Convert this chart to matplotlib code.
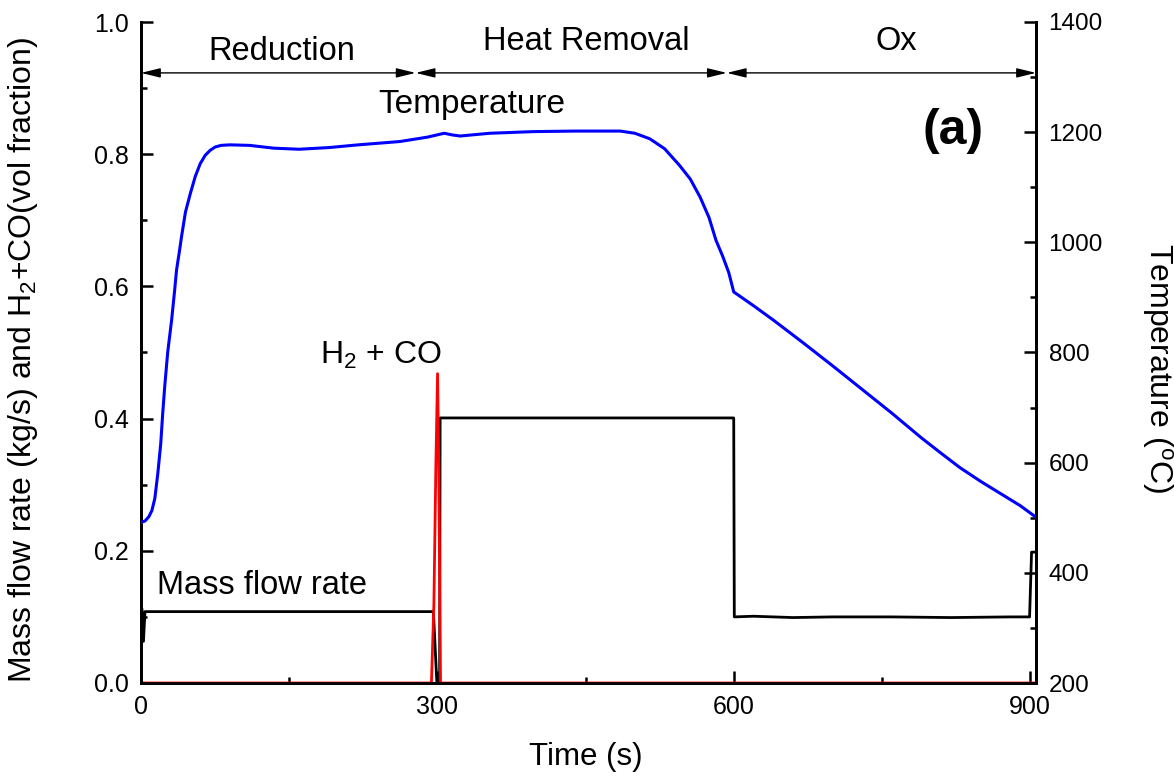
import matplotlib
matplotlib.use("Agg")
import matplotlib.pyplot as plt
from matplotlib.ticker import MultipleLocator

plt.rcParams['font.family'] = ['Liberation Sans', 'DejaVu Sans']
plt.rcParams['mathtext.fontset'] = 'custom'
plt.rcParams['mathtext.rm'] = 'Liberation Sans'
plt.rcParams['mathtext.it'] = 'Liberation Sans:italic'
plt.rcParams['mathtext.bf'] = 'Liberation Sans:bold'

# ---- data ----
temp_time = [0, 4, 8, 11, 14, 17, 20, 22, 24, 27, 31, 34, 36, 39, 41, 45, 50, 55, 60, 65, 70, 75, 81, 90,
             110, 134, 160, 190, 220, 262, 290, 302, 307, 315, 323, 353, 397, 440, 485,
             500, 515, 530, 545, 556, 566, 575, 582, 589, 595, 600,
             620, 640, 670, 700, 730, 760, 790, 810, 829, 850, 870, 890, 906]
temp_vals = [492, 494, 502, 513, 535, 580, 635, 690, 738, 800, 859, 912, 950, 985, 1010, 1055, 1089, 1120, 1143, 1158, 1167, 1173, 1176, 1177,
             1176, 1171, 1169, 1172, 1177, 1183, 1191, 1196, 1198, 1195, 1193, 1198, 1201, 1202, 1202,
             1198, 1188, 1170, 1140, 1115, 1082, 1045, 1004, 974, 945, 910,
             885, 859, 818, 776, 733, 690, 645, 617, 591, 566, 544, 522, 501]

flow_time = [0, 1, 2.5, 4, 5, 296, 299.5, 302.3, 302.8, 600, 600.6, 620, 640, 660, 700, 760, 820, 880, 899.5, 901.5, 906]
flow_vals = [0.115, 0.112, 0.063, 0.108, 0.108, 0.108, 0.0, 0.0, 0.401, 0.401, 0.100, 0.101, 0.100, 0.099, 0.100, 0.100, 0.099, 0.100, 0.100, 0.198, 0.198]

gas_time = [0, 294, 296.5, 298.5, 300.2, 301.5, 302.5, 303.2, 906]
gas_vals = [0, 0, 0.12, 0.33, 0.468, 0.32, 0.12, 0, 0]

x_ticks = [0, 300, 600, 900]
left_ticks = [0.0, 0.2, 0.4, 0.6, 0.8, 1.0]
right_ticks = [200, 400, 600, 800, 1000, 1200, 1400]

W, H = 1174, 776
fig = plt.figure(figsize=(W/100, H/100), dpi=100)
ax = fig.add_axes([141/W, 1-683/H, (1036-141)/W, (683-22)/H])
ax2 = ax.twinx()

ax.plot(flow_time, flow_vals, color='black', lw=2.0, zorder=3)
ax.plot(gas_time, gas_vals, color='#ff0000', lw=2.0, zorder=4)
ax2.plot(temp_time, temp_vals, color='#0000ff', lw=2.2, zorder=3)

ax.set_xlim(0, 906)
ax.set_ylim(0, 1.0)
ax2.set_ylim(200, 1400)

ax.set_xticks(x_ticks)
ax.set_xticklabels([str(t) for t in x_ticks])
ax.xaxis.set_minor_locator(MultipleLocator(150))
ax.set_yticks(left_ticks)
ax.set_yticklabels([f"{t:.1f}" for t in left_ticks])
ax.yaxis.set_minor_locator(MultipleLocator(0.1))
ax2.set_yticks(right_ticks)
ax2.set_yticklabels([str(t) for t in right_ticks])
ax2.yaxis.set_minor_locator(MultipleLocator(100))

for a in (ax, ax2):
    a.spines['top'].set_visible(False)
    for s in a.spines.values():
        s.set_linewidth(2.0)
ax.tick_params(axis='both', which='major', direction='in', length=8.5, width=1.8, labelsize=18, pad=9)
ax.tick_params(axis='both', which='minor', direction='in', length=4.5, width=1.8)
ax.tick_params(axis='x', top=False, which='both')
ax.tick_params(axis='y', right=False, which='both')
ax2.tick_params(axis='y', which='major', direction='in', length=8.5, width=1.8, labelsize=17.5, pad=9)
ax2.tick_params(axis='y', which='minor', direction='in', length=4.5, width=1.8)

fig.text(586/W, 1-757/H, 'Time (s)', ha='center', va='center', fontsize=22.5)
fig.text(23/W, 1-360/H, 'Mass flow rate (kg/s) and H$_2$+CO(vol fraction)',
         ha='center', va='center', rotation=90, fontsize=23)
fig.text(1157/W, 1-368/H, 'Temperature ($^{\\mathrm{o}}$C)',
         ha='center', va='center', rotation=270, fontsize=23)

# phase arrows
arr_y = 0.923
for x0, x1 in [(0, 278), (278, 593), (593, 906)]:
    ax.annotate('', xy=(x1, arr_y), xytext=(x0, arr_y),
                arrowprops=dict(arrowstyle='<|-|>,head_width=0.22,head_length=0.9',
                                color='black', lw=1.0,
                                mutation_scale=13, shrinkA=0, shrinkB=0))

ax.text(143, 0.955, 'Reduction', ha='center', va='center', fontsize=23.5)
ax.text(451, 0.970, 'Heat Removal', ha='center', va='center', fontsize=23.5)
ax.text(765, 0.970, 'Ox', ha='center', va='center', fontsize=23.5)
ax.text(335, 0.875, 'Temperature', ha='center', va='center', fontsize=24)
ax.text(822, 0.835, '(a)', ha='center', va='center', fontsize=36, fontweight='bold')
ax.text(243, 0.495, 'H$_2$ + CO', ha='center', va='center', fontsize=23)
ax.text(122, 0.147, 'Mass flow rate', ha='center', va='center', fontsize=23.5)

fig.savefig('out.png', dpi=100)
